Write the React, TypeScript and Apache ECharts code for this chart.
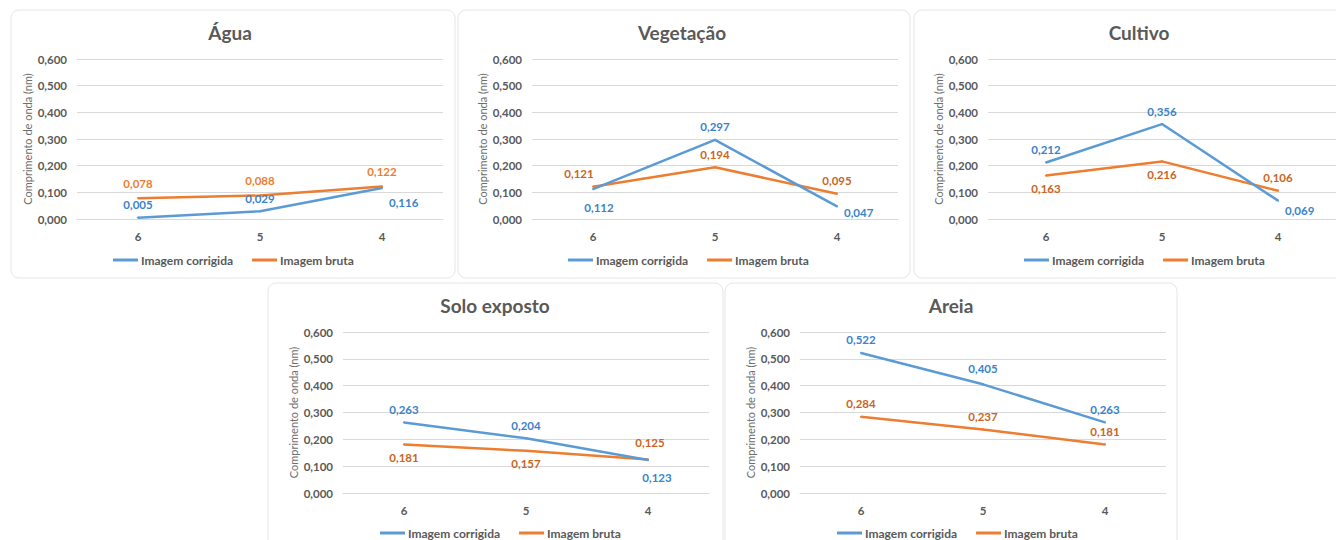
import React, { useEffect, useRef } from "react";
import * as echarts from "echarts";

// ---- data ----
const categories = ["6", "5", "4"];
const panelTitles = ["Água", "Vegetação", "Cultivo", "Solo exposto", "Areia"];
const seriesNames = ["Imagem corrigida", "Imagem bruta"];
const aguaCorrigida = [0.005, 0.029, 0.116];
const aguaBruta = [0.078, 0.088, 0.122];
const vegetacaoCorrigida = [0.112, 0.297, 0.047];
const vegetacaoBruta = [0.121, 0.194, 0.095];
const cultivoCorrigida = [0.212, 0.356, 0.069];
const cultivoBruta = [0.163, 0.216, 0.106];
const soloCorrigida = [0.263, 0.204, 0.123];
const soloBruta = [0.181, 0.157, 0.125];
const areiaCorrigida = [0.522, 0.405, 0.263];
const areiaBruta = [0.284, 0.237, 0.181];
const yMin = 0;
const yMax = 0.6;
const yStep = 0.1;
const yAxisName = "Comprimento de onda (nm)";

const corrigida = [aguaCorrigida, vegetacaoCorrigida, cultivoCorrigida, soloCorrigida, areiaCorrigida];
const bruta = [aguaBruta, vegetacaoBruta, cultivoBruta, soloBruta, areiaBruta];

// ---- layout / style ----
const FONT = "Lato, 'Liberation Sans', sans-serif";
const TEXT = "#595959";
const BLUE = "#5b9bd5";
const ORANGE = "#ed7d31";
const BLUE_LABEL = "#3a83cc";
const ORANGE_LABEL = ["#ed7d31", "#c9651e", "#c9651e", "#c9651e", "#c9651e"];

const grids = [
  { left: 77, top: 59, width: 366, height: 160 },
  { left: 532, top: 59, width: 366, height: 160 },
  { left: 988, top: 59, width: 366, height: 160 },
  { left: 343, top: 332, width: 366, height: 161 },
  { left: 800, top: 332, width: 366, height: 161 },
];
const titlePos = [
  [230, 32],
  [682, 32],
  [1139, 32],
  [495, 305],
  [951, 305],
];
const legendPos = [
  [113, 254],
  [568, 254],
  [1024, 254],
  [380, 527],
  [837, 527],
];
const panels = [
  [11, 10, 444, 268],
  [458, 10, 452, 268],
  [914, 10, 430, 268],
  [268, 283, 455, 270],
  [725, 283, 452, 270],
];
// label placement: [position, offsetX, offsetY]
type LP = [string, number, number];
const labelCorr: LP[][] = [
  [["top", 0, 0], ["top", 0, 0], ["right", 0, 14]],
  [["bottom", 6, 5], ["top", 0, 0], ["right", 0, 6]],
  [["top", 0, 0], ["top", 0, 0], ["right", 0, 10]],
  [["top", 0, 0], ["top", 0, 0], ["bottom", 9, 5]],
  [["top", 0, 0], ["top", 0, -3], ["top", 0, 0]],
];
const labelBruta: LP[][] = [
  [["top", 0, -2], ["top", 0, -2], ["top", 0, -2]],
  [["top", -14, 0], ["top", 0, 0], ["top", 0, 0]],
  [["bottom", 0, 0], ["bottom", 0, 0], ["top", 0, 0]],
  [["bottom", 0, 0], ["bottom", 0, 0], ["top", 2, -4]],
  [["top", 0, 0], ["top", 0, 0], ["top", 0, 0]],
];

const fmt = (v: number) => v.toFixed(3).replace(".", ",");

export default function App() {
  const ref = useRef<HTMLDivElement>(null);
  useEffect(() => {
    document.body.style.margin = "0";
    const chart = echarts.init(ref.current!, undefined, { renderer: "svg" });

    const graphic: any[] = [];
    panels.forEach(([x, y, w, h]) => {
      graphic.push({
        type: "rect",
        shape: { x, y, width: w, height: h, r: 8 },
        style: { fill: "none", stroke: "#e6e6e6", lineWidth: 1 },
        silent: true,
        z: -1,
      });
    });
    panelTitles.forEach((t, i) => {
      graphic.push({
        type: "text",
        x: titlePos[i][0],
        y: titlePos[i][1],
        style: {
          text: t,
          fill: TEXT,
          font: `bold 19px ${FONT}`,
          align: "center",
          verticalAlign: "middle",
        },
      });
    });

    const makeData = (vals: number[], lp: LP[], color: string) =>
      vals.map((v, j) => ({
        value: v,
        label: {
          position: lp[j][0],
          offset: [lp[j][1], lp[j][2]],
          color,
        },
      }));

    const series: any[] = [];
    for (let i = 0; i < 5; i++) {
      const common = {
        type: "line",
        xAxisIndex: i,
        yAxisIndex: i,
        symbol: "circle",
        symbolSize: 2,
        showSymbol: true,
        label: {
          show: true,
          formatter: (p: any) => fmt(p.value),
          fontFamily: FONT,
          fontWeight: "bold",
          fontSize: 11.5,
          distance: 6,
        },
      };
      series.push({
        ...common,
        name: seriesNames[0],
        color: BLUE,
        lineStyle: { color: BLUE, width: 2.5 },
        itemStyle: { color: BLUE },
        data: makeData(corrigida[i], labelCorr[i], BLUE_LABEL),
        z: 3,
      });
      series.push({
        ...common,
        name: seriesNames[1],
        color: ORANGE,
        lineStyle: { color: ORANGE, width: 2.5 },
        itemStyle: { color: ORANGE },
        data: makeData(bruta[i], labelBruta[i], ORANGE_LABEL[i]),
        z: 2,
      });
    }

    const option: any = {
      animation: false,
      graphic,
      grid: grids.map((g) => ({ ...g, containLabel: false })),
      xAxis: grids.map((_, i) => ({
        type: "category",
        gridIndex: i,
        data: categories,
        boundaryGap: true,
        axisLine: { lineStyle: { color: "#d9d9d9" } },
        axisTick: { show: false },
        axisLabel: {
          color: TEXT,
          fontFamily: FONT,
          fontWeight: "bold",
          fontSize: 11.5,
          margin: 11,
        },
      })),
      yAxis: grids.map((_, i) => ({
        type: "value",
        gridIndex: i,
        min: yMin,
        max: yMax,
        interval: yStep,
        name: yAxisName,
        nameLocation: "middle",
        nameRotate: 90,
        nameGap: 44,
        nameTextStyle: { color: "#6e6e6e", fontFamily: FONT, fontSize: 11 },
        axisLine: { show: false },
        axisTick: { show: false },
        splitLine: { lineStyle: { color: "#d9d9d9" } },
        axisLabel: {
          color: TEXT,
          fontFamily: FONT,
          fontWeight: "bold",
          fontSize: 11.5,
          margin: 10,
          formatter: (v: number) => fmt(v),
        },
      })),
      legend: legendPos.map(([l, t]) => ({
        left: l,
        top: t,
        padding: 0,
        data: seriesNames,
        icon: "rect",
        itemWidth: 25,
        itemHeight: 3,
        itemGap: 19,
        selectedMode: false,
        textStyle: {
          color: TEXT,
          fontFamily: FONT,
          fontWeight: "bold",
          fontSize: 12,
          padding: [0, 0, 0, -2],
        },
      })),
      series,
    };
    chart.setOption(option);
    return () => chart.dispose();
  }, []);
  return <div ref={ref} style={{ width: 1336, height: 540, background: "#fff" }} />;
}
